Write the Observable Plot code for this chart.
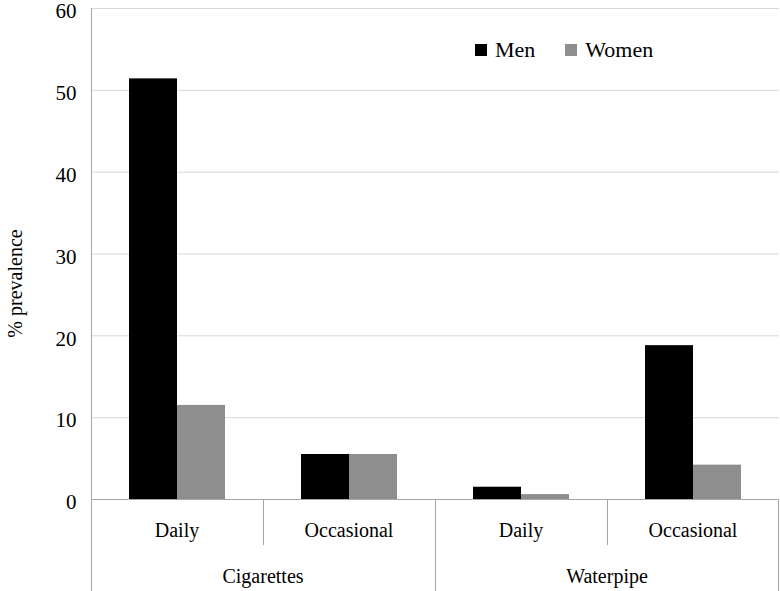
<!DOCTYPE html>
<html><head><meta charset="utf-8">
<script src="https://cdn.jsdelivr.net/npm/d3@7"></script>
<script src="https://cdn.jsdelivr.net/npm/@observablehq/plot@0.6"></script>
<style>
body{margin:0;background:#fff;}
#wrap{position:relative;width:780px;height:591px;font-family:'Liberation Serif',serif;}
#legend{position:absolute;left:475px;top:33px;}
#legend div, #legend span{font-family:'Liberation Serif',serif !important;font-size:22px !important;color:#000 !important;}
#legend span{margin-right:30px !important;}
#legend svg{margin-right:8px !important;}
</style></head><body><div id="wrap"><div id="legend"></div></div>
<script>
const products = ["Cigarettes", "Waterpipe"];
const frequencies = ["Daily", "Occasional"];
const sexes = ["Men", "Women"];
const menValues = [51.4, 5.5, 1.5, 18.8];
const womenValues = [11.5, 5.5, 0.6, 4.2];
const yTicks = [0, 10, 20, 30, 40, 50, 60];
const sexColors = ["#000000", "#8e8e8e"];
const yLabel = "% prevalence";

const keys = products.flatMap(p => frequencies.map(f => p + "|" + f));
const data = keys.flatMap((k, i) => [
  {key: k, sex: "Men", value: menValues[i]},
  {key: k, sex: "Women", value: womenValues[i]}
]);

const font = "'Liberation Serif', serif";
const W = 780, H = 591;
const plot = Plot.plot({
  width: W, height: H,
  marginLeft: 90, marginRight: 1, marginTop: 8, marginBottom: 92,
  style: {fontFamily: font, fontSize: "20px", color: "#000", background: "#fff"},
  fx: {domain: keys, padding: 0, axis: null},
  x: {domain: sexes, paddingInner: 0, paddingOuter: 0.76, axis: null},
  y: {domain: [0, 60], axis: null},
  color: {domain: sexes, range: sexColors},
  marks: [
    Plot.gridY(yTicks, {stroke: "#d9d9d9", strokeOpacity: 1}),
    Plot.barY(data, {fx: "key", x: "sex", y: "value", fill: "sex"}),
    Plot.ruleY([0], {stroke: "#a6a6a6"}),
    Plot.axisY(yTicks, {tickSize: 0, tickPadding: 15, label: null, fontSize: 21, dy: 3})
  ]
});

const wrap = document.getElementById("wrap");
wrap.appendChild(plot);

const fx = plot.scale("fx");
const y = plot.scale("y");
const bw = fx.bandwidth;
const y0 = y.apply(0);
const yTop = y.apply(60);
const yMid = y0 + (H - y0) / 2;
const svg = d3.select(plot);
const g = svg.append("g").attr("stroke", "#a6a6a6").attr("stroke-width", 1);
const x0 = fx.apply(keys[0]);
g.append("line").attr("x1", x0 + 0.5).attr("x2", x0 + 0.5).attr("y1", yTop).attr("y2", H);
keys.forEach((k, i) => {
  if (i === 0) return;
  const x = Math.round(fx.apply(k)) + 0.5;
  const groupStart = i % frequencies.length === 0;
  g.append("line").attr("x1", x).attr("x2", x).attr("y1", y0).attr("y2", groupStart ? H : yMid);
});
const xEnd = Math.round(fx.apply(keys[keys.length - 1]) + bw) - 0.5;
g.append("line").attr("x1", xEnd).attr("x2", xEnd).attr("y1", y0).attr("y2", H);

const tg = svg.append("g").attr("font-family", font).attr("font-size", 20).attr("fill", "#000").attr("text-anchor", "middle");
keys.forEach((k, i) => {
  tg.append("text").attr("x", fx.apply(k) + bw / 2).attr("y", y0 + 38).text(frequencies[i % frequencies.length]);
});
products.forEach((p, j) => {
  const first = keys[j * frequencies.length];
  tg.append("text").attr("x", fx.apply(first) + bw * frequencies.length / 2).attr("y", y0 + 84).text(p);
});
tg.append("text").attr("transform", `translate(22,${(yTop + y0) / 2 + 30}) rotate(-90)`).text(yLabel);

const legend = plot.legend("color", {swatchSize: 12, swatchWidth: 12, swatchHeight: 12});
document.getElementById("legend").appendChild(legend);
</script>
</body></html>
